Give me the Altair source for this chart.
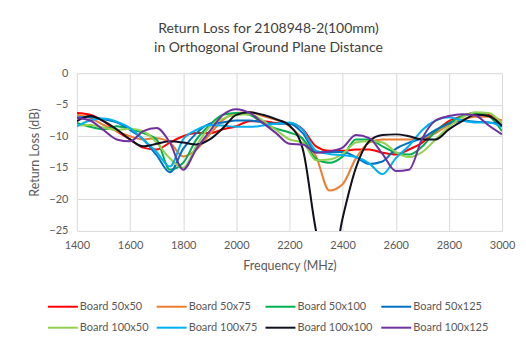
import altair as alt
import pandas as pd

freq = list(range(1400, 3001, 50))

board_50x50 = [-6.3, -6.6, -7.6, -9.2, -10.5, -11.8, -12.1, -11.0, -10.0, -9.5,
               -9.5, -8.9, -8.4, -7.6, -7.6, -7.9, -7.9, -8.9, -11.6, -12.3,
               -12.3, -12.1, -12.1, -12.6, -12.9, -12.1, -11.0, -9.2, -7.6, -6.8,
               -6.3, -6.6, -8.2]
board_50x75 = [-6.6, -7.1, -8.2, -9.2, -10.0, -10.5, -10.3, -11.0, -13.2, -12.1,
               -9.7, -7.4, -6.3, -6.2, -6.8, -7.4, -8.4, -10.5, -13.2, -18.6,
               -17.6, -13.5, -11.0, -10.5, -10.5, -10.5, -10.3, -9.5, -8.2, -7.4,
               -6.9, -6.9, -7.5]
board_50x100 = [-7.9, -8.5, -8.9, -8.4, -8.9, -9.5, -10.5, -15.3, -14.2, -10.5,
                -8.2, -6.6, -6.3, -6.6, -7.9, -8.8, -9.4, -10.4, -13.6, -14.2,
                -13.2, -10.5, -10.5, -11.6, -12.6, -12.9, -11.6, -9.2, -7.9, -6.8,
                -6.3, -6.8, -9.2]
board_50x125 = [-7.0, -7.0, -7.3, -7.8, -9.0, -10.5, -13.0, -15.7, -12.0, -9.5,
                -8.0, -7.8, -7.5, -7.5, -7.8, -8.0, -8.0, -9.5, -12.5, -12.5,
                -12.5, -13.3, -14.4, -14.0, -12.0, -11.0, -10.3, -9.0, -8.0, -7.5,
                -7.7, -7.8, -8.0]
board_100x50 = [-8.3, -8.2, -8.6, -9.0, -8.8, -9.2, -11.0, -13.5, -15.0, -11.5,
                -8.5, -7.2, -6.6, -6.5, -7.5, -9.0, -10.5, -11.0, -13.8, -13.7,
                -12.8, -11.0, -10.8, -11.0, -12.5, -13.3, -12.5, -10.5, -8.5, -7.0,
                -6.2, -6.3, -8.0]
board_100x75 = [-8.4, -7.5, -7.2, -7.7, -8.7, -10.5, -12.5, -14.8, -10.5, -9.0,
                -8.2, -8.3, -8.5, -8.5, -8.3, -8.0, -7.8, -9.0, -12.3, -12.8,
                -13.0, -13.3, -14.3, -16.0, -13.5, -11.5, -9.0, -7.5, -7.0, -7.5,
                -7.8, -7.8, -8.5]
board_100x100 = [-7.6, -6.8, -7.6, -8.9, -10.5, -11.6, -11.2, -10.8, -11.0, -11.3,
                 -10.5, -8.7, -6.6, -6.2, -6.6, -7.3, -8.3, -12.0, -25.0, -33.0,
                 -23.0, -15.0, -10.8, -9.8, -9.7, -10.0, -10.5, -10.5, -8.9, -7.6,
                 -6.6, -6.8, -8.4]
board_100x125 = [-7.1, -7.5, -9.0, -10.5, -10.8, -9.2, -8.7, -11.0, -15.3, -12.0,
                 -9.2, -6.6, -5.7, -6.3, -7.9, -9.5, -11.2, -11.3, -12.6, -12.4,
                 -11.8, -9.8, -10.3, -12.8, -15.5, -15.3, -10.3, -7.5, -6.8, -6.5,
                 -6.7, -8.3, -9.7]

series_names = ["Board 50x50", "Board 50x75", "Board 50x100", "Board 50x125",
                "Board 100x50", "Board 100x75", "Board 100x100", "Board 100x125"]
series_values = [board_50x50, board_50x75, board_50x100, board_50x125,
                 board_100x50, board_100x75, board_100x100, board_100x125]
series_colors = ["#FF0000", "#ED7D31", "#00B050", "#0070C0",
                 "#92D050", "#00B0F0", "#101020", "#7030A0"]

x_ticks = list(range(1400, 3001, 200))
y_ticks = [0, -5, -10, -15, -20, -25]

rows = []
for name, vals in zip(series_names, series_values):
    for f, v in zip(freq, vals):
        rows.append({"Frequency": f, "ReturnLoss": v, "Board": name})
df = pd.DataFrame(rows)

FONT = "Lato"
GRID = "#d9d9d9"
TXT = "#595959"

chart = alt.Chart(df).mark_line(strokeWidth=2, interpolate="monotone", clip=True).encode(
    x=alt.X("Frequency:Q",
            scale=alt.Scale(domain=[1400, 3000], nice=False),
            axis=alt.Axis(values=x_ticks, title="Frequency (MHz)", grid=True,
                          gridColor=GRID, domain=False, ticks=False,
                          labelFlush=False, labelPadding=9, titlePadding=9,
                          format="d")),
    y=alt.Y("ReturnLoss:Q",
            scale=alt.Scale(domain=[-25, 0], nice=False),
            axis=alt.Axis(values=y_ticks, title="Return Loss (dB)", grid=True,
                          gridColor=GRID, domain=False, ticks=False,
                          labelFlush=False, labelPadding=9, titlePadding=7)),
    color=alt.Color("Board:N",
                    scale=alt.Scale(domain=series_names, range=series_colors),
                    sort=series_names,
                    legend=alt.Legend(orient="none", legendX=-30, legendY=218,
                                      direction="horizontal", columns=4,
                                      symbolType="stroke", symbolSize=900,
                                      symbolStrokeWidth=2, title=None,
                                      labelFontSize=11, labelColor=TXT,
                                      labelFont=FONT, columnPadding=4,
                                      rowPadding=-7, labelOffset=1)),
).properties(
    width=426,
    height=158,
    title=alt.TitleParams(text=["Return Loss for 2108948-2(100mm)",
                                "in Orthogonal Ground Plane Distance"],
                          fontSize=14, font=FONT, fontWeight="normal",
                          color="#404040", lineHeight=19, offset=12, dx=-21,
                          anchor="middle"),
    autosize=alt.AutoSizeParams(type="none"),
    padding={"left": 69, "top": 65, "right": 16, "bottom": 103},
).configure_axis(
    labelFont=FONT, titleFont=FONT, labelFontSize=11, titleFontSize=12.5,
    labelColor=TXT, titleColor=TXT, titleFontWeight="normal",
).configure_view(stroke=None)

chart.save("out.html", embed_options={"renderer": "svg", "actions": False})
